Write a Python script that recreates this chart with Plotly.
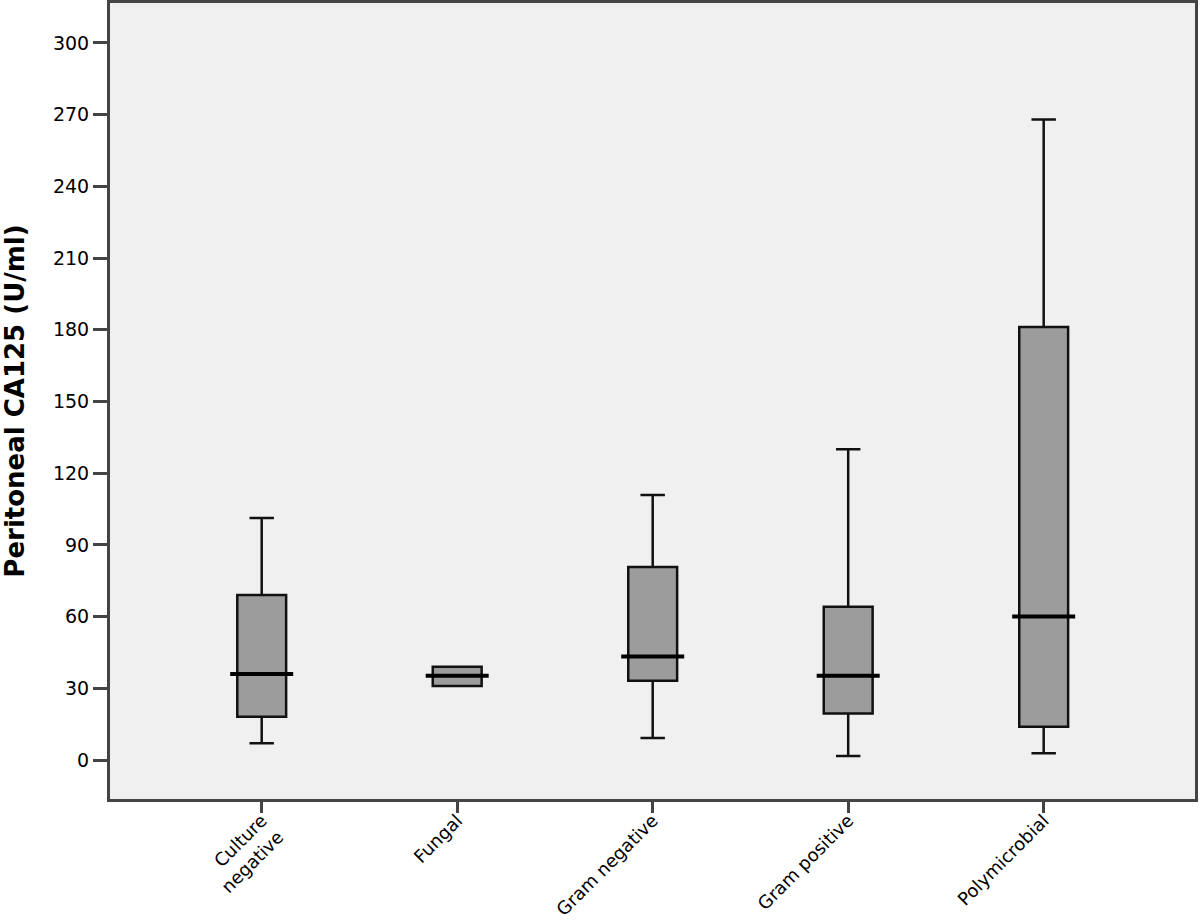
import plotly.graph_objects as go

categories = ["Culture<br>negative", "Fungal", "Gram negative", "Gram positive", "Polymicrobial"]
lower_whisker = [7.0, 31.0, 9.2, 1.7, 2.8]
q1_values = [18.1, 31.0, 33.2, 19.5, 13.9]
median_values = [36.0, 35.3, 43.3, 35.3, 60.0]
q3_values = [69.0, 39.0, 80.8, 64.1, 181.2]
upper_whisker = [101.3, 39.0, 110.9, 130.0, 268.0]
y_ticks = [0, 30, 60, 90, 120, 150, 180, 210, 240, 270, 300]

fig = go.Figure()
fig.add_trace(go.Box(
    x=categories,
    q1=q1_values,
    median=median_values,
    q3=q3_values,
    lowerfence=lower_whisker,
    upperfence=upper_whisker,
    width=0.25,
    whiskerwidth=0.5,
    fillcolor="#9c9c9c",
    line=dict(color="#111111", width=2.5),
    boxpoints=False,
    showlegend=False,
    hoverinfo="skip",
))
fig.add_trace(go.Scatter(
    x=categories,
    y=median_values,
    mode="markers",
    marker=dict(symbol="line-ew", size=45, line=dict(color="#000000", width=4)),
    showlegend=False,
    hoverinfo="skip",
))

fig.update_layout(
    width=1200, height=924,
    margin=dict(l=110, r=5, t=3, b=125),
    paper_bgcolor="white",
    plot_bgcolor="#f0f0f0",
    font=dict(family="DejaVu Sans", color="#000000", size=19),
)
fig.update_xaxes(
    type="category",
    categoryorder="array",
    categoryarray=categories,
    range=[-0.776, 4.774],
    automargin=False,
    showgrid=False, zeroline=False,
    showline=True, linecolor="#444444", linewidth=3, mirror=True,
    ticks="outside", ticklen=11, tickwidth=3, tickcolor="#444444",
    tickangle=-45,
    ticklabelstandoff=-10,
    tickfont=dict(size=18),
)
fig.update_yaxes(
    range=[-16.3, 316.7],
    tickvals=y_ticks,
    automargin=False,
    showgrid=False, zeroline=False,
    showline=True, linecolor="#444444", linewidth=3, mirror=True,
    ticks="outside", ticklen=14, tickwidth=3, tickcolor="#444444",
    tickfont=dict(size=19),
    title=dict(text="<b>Peritoneal CA125 (U/ml)</b>", font=dict(size=26), standoff=21),
)

fig.write_html("out.html", config={"displayModeBar": False},
               post_script="document.body.style.margin='0px';")
